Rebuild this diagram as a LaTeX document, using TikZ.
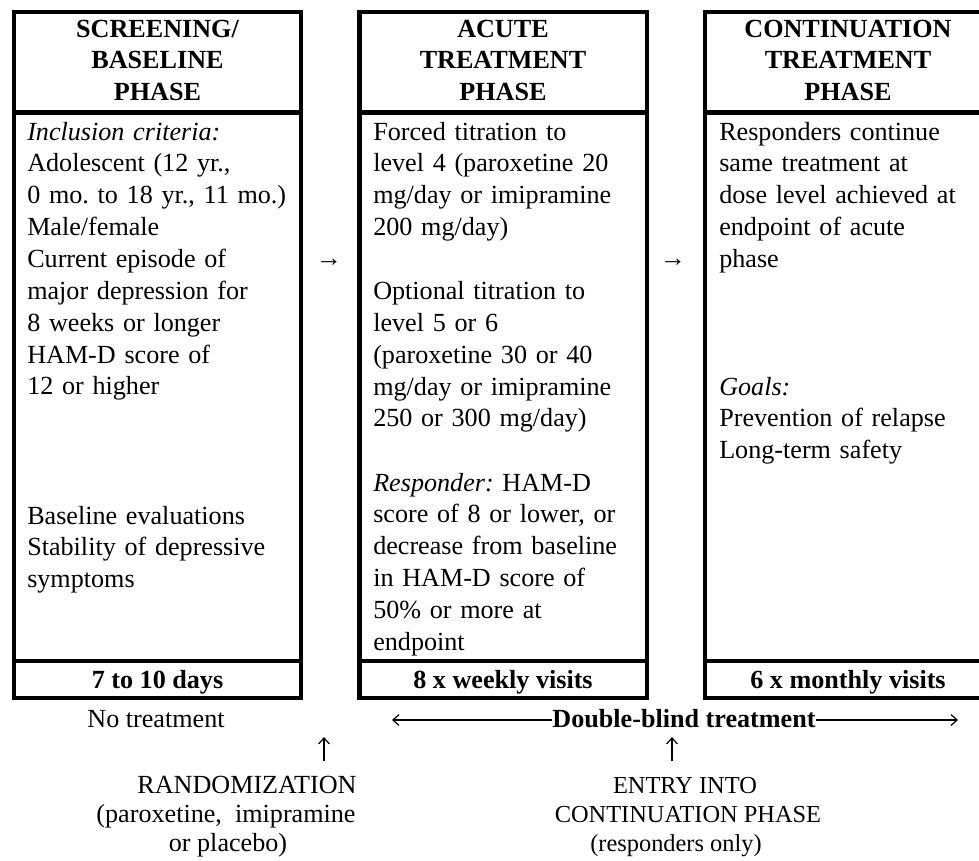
\documentclass[tikz,border=0pt]{standalone}
\usepackage{fontspec}
\setmainfont{Liberation Serif}
\usetikzlibrary{arrows.meta}
\newcommand{\bodysize}{\fontsize{19.6pt}{23.9pt}\selectfont\frenchspacing}
\newcommand{\smallbodysize}{\fontsize{18.3pt}{22pt}\selectfont\frenchspacing}
\begin{document}
\begin{tikzpicture}[x=0.75pt,y=-0.75pt,
  frame/.style={line width=3.4pt},
  headtxt/.style={font=\bodysize\bfseries, align=center, text width=205pt, inner sep=0pt, anchor=base},
  bodytxt/.style={font=\bodysize, align=left, text width=215pt, inner sep=0pt, anchor=base west},
  foot/.style={font=\bodysize\bfseries, inner sep=0pt, anchor=base},
  plain/.style={font=\bodysize, inner sep=0pt, anchor=base},
  plainsmall/.style={font=\smallbodysize, inner sep=0pt, anchor=base},
  glyph/.style={font=\bodysize, inner sep=0pt},
  thinarrow/.style={line width=0.9pt, -{Straight Barb[length=4.5pt,width=8pt]}}
]
\clip (0,0) rectangle (979,861);
% ---- frames
\draw[frame] (14,12) rectangle (301,698);
\draw[frame] (14,112.5) -- (301,112.5);
\draw[frame] (14,661) -- (301,661);
\draw[frame] (359.5,12) rectangle (647,698);
\draw[frame] (359.5,112.5) -- (647,112.5);
\draw[frame] (359.5,661) -- (647,661);
\draw[frame] (705,12) rectangle (992,698);
\draw[frame] (705,112.5) -- (992,112.5);
\draw[frame] (705,661) -- (992,661);
% ---- headers
\node[headtxt] (h1) at (157.5,37) {SCREENING/\\BASELINE\\PHASE};
\node[headtxt] (h2) at (503,37) {ACUTE\\TREATMENT\\PHASE};
\node[headtxt] (h3) at (848,37) {CONTINUATION\\TREATMENT\\PHASE};
% ---- bodies
\node[bodytxt] (b1a) at (27,140) {\textit{Inclusion criteria:}\\Adolescent (12 yr.,\\0 mo. to 18 yr., 11 mo.)\\Male/female\\Current episode of\\major depression for\\8 weeks or longer\\HAM-D score of\\12 or higher};
\node[bodytxt] (b1b) at (27,524) {Baseline evaluations\\Stability of depressive\\symptoms};
\node[bodytxt] (b2a) at (373,140) {Forced titration to\\level 4 (paroxetine 20\\mg/day or imipramine\\200 mg/day)};
\node[bodytxt] (b2b) at (373,299.5) {Optional titration to\\level 5 or 6\\(paroxetine 30 or 40\\mg/day or imipramine\\250 or 300 mg/day)};
\node[bodytxt] (b2c) at (373,491) {\textit{Responder:} HAM-D\\score of 8 or lower, or\\decrease from baseline\\in HAM-D score of\\50\% or more at\\endpoint};
\node[bodytxt] (b3a) at (719,140) {Responders continue\\same treatment at\\dose level achieved at\\endpoint of acute\\phase};
\node[bodytxt] (b3b) at (719,395) {\textit{Goals:}\\Prevention of relapse\\Long-term safety};
% ---- footers
\node[foot] (f1) at (157.5,688) {7 to 10 days};
\node[foot] (f2) at (503,688) {8 x weekly visits};
\node[foot] (f3) at (848,688) {6 x monthly visits};
% ---- arrows between boxes
\node[glyph] (a1) at (329,263) {→};
\node[glyph] (a2) at (673,263) {→};
% ---- bottom
\node[plain] (nt) at (156,727) {No treatment};
\node[foot] (dbl) at (684,727) {Double-blind treatment};
\coordinate (dbL) at (392,720);
\coordinate (dbR) at (958,720);
\draw[thinarrow] (dbl.west |- dbL) -- (dbL);
\draw[thinarrow] (dbl.east |- dbR) -- (dbR);
\coordinate (u1s) at (324,761);
\coordinate (u1e) at (324,737);
\coordinate (u2s) at (672,761);
\coordinate (u2e) at (672,737);
\draw[thinarrow] (u1s) -- (u1e);
\draw[thinarrow] (u2s) -- (u2e);
\node[plain] (r1) at (247,793) {RANDOMIZATION};
\node[plain] (r2) at (226,822) {(paroxetine,\hspace{0.5em}imipramine};
\node[plain] (r3) at (228,851) {or placebo)};
\node[plainsmall] (e1) at (685,793) {ENTRY INTO};
\node[plainsmall] (e2) at (688,822) {CONTINUATION PHASE};
\node[plainsmall] (e3) at (676,851) {(responders only)};
\end{tikzpicture}
\end{document}
